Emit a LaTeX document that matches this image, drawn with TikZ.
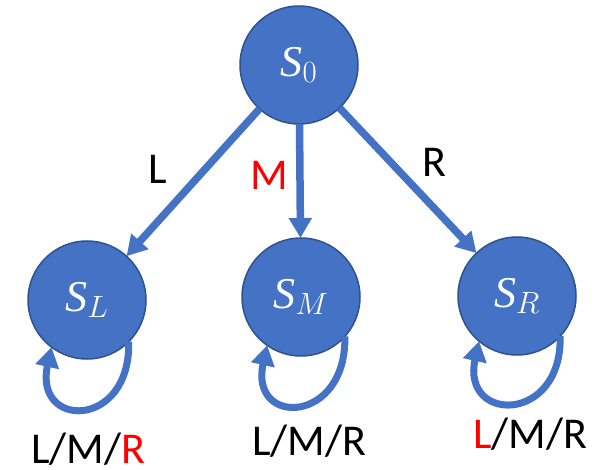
\RequirePackage{fix-cm}
\documentclass[tikz,border=0pt]{standalone}
\usepackage{fontspec}
\setmainfont{Carlito}
\newfontfamily\statefont{Liberation Serif}
\usetikzlibrary{arrows.meta}
\definecolor{nodeblue}{HTML}{4472C4}
\definecolor{nodeedge}{HTML}{2F528F}
\definecolor{lblred}{HTML}{FF0000}
\newcommand{\stname}[1]{{\statefont\itshape S}$_{#1}$}
\tikzset{
  state/.style={circle, fill=nodeblue, draw=nodeedge, line width=1.5pt,
    minimum size=118pt, inner sep=0pt, outer sep=0pt, text=white,
    font=\fontsize{44}{50}\selectfont},
  trans/.style={draw=nodeblue, line width=7.5pt,
    -{Triangle[width=22pt,length=20pt]}},
  selfloop/.style={draw=nodeblue, line width=7pt,
    -{Triangle[width=23pt,length=20pt]}},
  lbl/.style={font=\fontsize{44}{52}\selectfont, inner sep=0pt}
}
\begin{document}
\begin{tikzpicture}[x=1pt,y=-1pt]
\useasboundingbox (0,0) rectangle (610,470);
\node[state] (S0) at (299,65) {\stname{0}};
\node[state] (SL) at (87,300) {\stname{L}};
\node[state] (SM) at (301,297) {\stname{M}};
\node[state] (SR) at (517,296) {\stname{R}};
\draw[trans] (S0) -- (SL);
\draw[trans] (S0) -- (SM);
\draw[trans] (S0) -- (SR);
\draw[selfloop] (SL.-45) .. controls +(2,88) and +(-18,82) .. (SL.-127);
\draw[selfloop] (SM.-42) .. controls +(2,88) and +(-18,82) .. (SM.-125);
\draw[selfloop] (SR.-43) .. controls +(2,88) and +(-18,82) .. (SR.-130);
\node[lbl] (lL) at (158,169) {L};
\node[lbl, text=lblred] (lM) at (269,175) {M};
\node[lbl] (lR) at (434,162) {R};
\node[lbl] (bL) at (88,449) {L/M/\textcolor{lblred}{R}};
\node[lbl] (bM) at (309,441) {L/M/R};
\node[lbl] (bR) at (530,434) {\textcolor{lblred}{L}/M/R};
\end{tikzpicture}
\end{document}
